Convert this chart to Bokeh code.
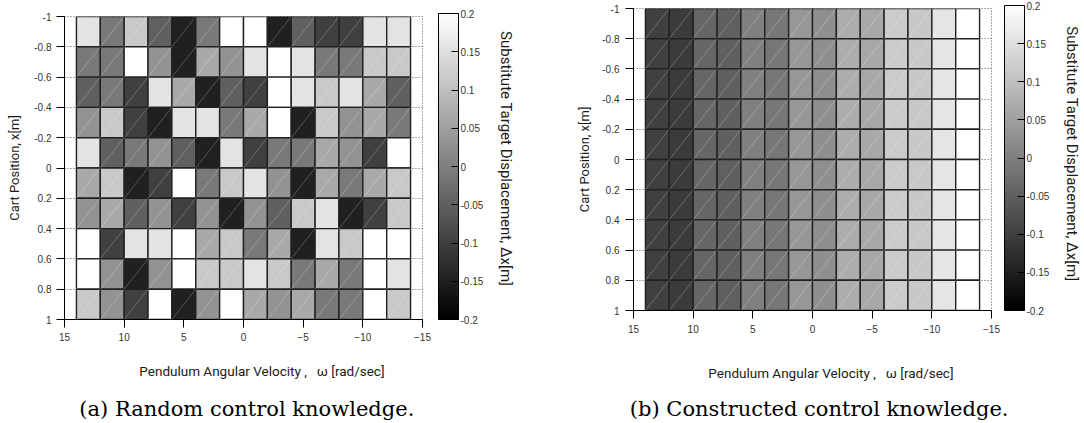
from bokeh.plotting import figure
from bokeh.models import (Range1d, LinearColorMapper, ColorBar, FixedTicker, LinearAxis,
                          ColumnDataSource, AllLabels)
from bokeh.layouts import row, column
from bokeh.transform import transform
from bokeh.embed import file_html
from bokeh.resources import INLINE

# ---------------- data ----------------
omega_centers = [13, 11, 9, 7, 5, 3, 1, -1, -3, -5, -7, -9, -11, -13]
position_centers = [-0.9, -0.7, -0.5, -0.3, -0.1, 0.1, 0.3, 0.5, 0.7, 0.9]

random_values = [
    [0.155, -0.01, 0.115, -0.05, -0.15, -0.01, 0.2, 0.2, -0.15, -0.05, -0.1, -0.1, 0.155, 0.155],
    [-0.01, -0.01, 0.2, 0.03, -0.15, 0.065, 0.03, 0.155, 0.2, 0.155, -0.01, -0.01, 0.115, 0.115],
    [-0.05, -0.01, -0.1, 0.155, 0.065, -0.15, -0.05, -0.1, 0.2, 0.155, 0.115, 0.155, 0.065, -0.05],
    [0.03, 0.115, -0.1, -0.15, 0.155, 0.155, -0.01, 0.065, 0.2, -0.15, 0.115, 0.03, 0.065, -0.01],
    [0.155, -0.05, -0.01, 0.03, -0.05, -0.15, 0.155, -0.1, -0.01, -0.01, 0.065, 0.03, -0.1, 0.2],
    [0.065, 0.115, -0.15, -0.1, 0.2, -0.01, 0.115, 0.155, 0.03, -0.15, 0.065, -0.01, 0.065, 0.115],
    [0.03, 0.065, -0.05, 0.03, -0.1, 0.03, -0.15, 0.03, -0.05, 0.115, 0.155, -0.15, -0.1, 0.115],
    [0.2, -0.1, 0.155, 0.155, 0.2, 0.065, 0.115, -0.01, 0.065, -0.15, 0.155, 0.115, 0.2, 0.2],
    [0.2, 0.03, -0.15, 0.03, 0.2, 0.115, 0.115, 0.155, 0.115, -0.01, 0.065, -0.01, 0.2, 0.155],
    [0.115, 0.03, -0.1, 0.2, -0.15, 0.03, 0.2, 0.065, 0.03, 0.065, -0.01, -0.01, 0.2, 0.115],
]

constructed_column_values = [-0.1, -0.107, -0.04, -0.05, 0.0, -0.013, 0.037, 0.024,
                             0.071, 0.064, 0.118, 0.114, 0.158, 0.2]
constructed_values = [list(constructed_column_values) for _ in position_centers]

x_ticks = [15, 10, 5, 0, -5, -10, -15]
y_ticks = [-1, -0.8, -0.6, -0.4, -0.2, 0, 0.2, 0.4, 0.6, 0.8, 1]
y_tick_labels = ["-1", "-0.8", "-0.6", "-0.4", "-0.2", "0", "0.2", "0.4", "0.6", "0.8", "1"]
cb_ticks = [-0.2, -0.15, -0.1, -0.05, 0, 0.05, 0.1, 0.15, 0.2]
cb_tick_labels = ["-0.2", "-0.15", "-0.1", "-0.05", "0", "0.05", "0.1", "0.15", "0.2"]

x_title = "Pendulum Angular Velocity\u00a0,\u00a0\u00a0\u00a0ω [rad/sec]"
y_title = "Cart Position, x[m]"
cb_title = "Substitute Target Displacement, Δx[m]"
captions = ["(a) Random control knowledge.", "(b) Constructed control knowledge."]

# ---------------- style ----------------
NB = "\u00a0"
CELL_W, CELL_H = 2.0, 0.2
GRAYS = ["#%02x%02x%02x" % (i, i, i) for i in range(256)]
TICK_FONT = "Liberation Sans"
LABEL_FONT = "Roboto"
CAPTION_FONT = "DejaVu Serif"
FRAME_W = 358
HEIGHT = 423


def text_axis(label, standoff, font, size, color):
    ax = LinearAxis(ticker=FixedTicker(ticks=[]), axis_label=label,
                    axis_label_standoff=standoff,
                    axis_line_color=None, major_tick_line_color=None,
                    minor_tick_line_color=None,
                    axis_label_text_font=font, axis_label_text_font_size=size,
                    axis_label_text_font_style="normal", axis_label_text_color=color)
    ax.major_tick_out = 0
    ax.major_tick_in = 0
    ax.major_label_standoff = 0
    return ax


def make_panel(values, caption, width, border_left, border_top, frame_h,
               tick_standoff, ylab_standoff, cb_x, xlab_standoff, xlab_pad,
               cap_standoff, cap_pad, cbt_standoff, cbt_pad):
    p = figure(width=width, height=HEIGHT,
               x_range=Range1d(15, -15), y_range=Range1d(1, -1),
               min_border_left=border_left,
               min_border_right=width - border_left - FRAME_W,
               min_border_top=border_top,
               min_border_bottom=HEIGHT - border_top - frame_h,
               output_backend="svg", toolbar_location=None, tools="")
    p.background_fill_color = "white"
    p.border_fill_color = "white"
    p.outline_line_color = "#555555"
    p.outline_line_dash = "1 2"
    p.outline_line_width = 1

    mapper = LinearColorMapper(palette=GRAYS, low=-0.2, high=0.2)

    w, x, v, dx0, dy0, dx1, dy1 = [], [], [], [], [], [], []
    for r, yc in enumerate(position_centers):
        for c, wc in enumerate(omega_centers):
            w.append(wc)
            x.append(yc)
            v.append(values[r][c])
            dx0.append(wc + CELL_W / 2)
            dy0.append(yc + CELL_H / 2)
            dx1.append(wc - CELL_W / 2)
            dy1.append(yc - CELL_H / 2)
    src = ColumnDataSource(dict(w=w, x=x, v=v, dx0=dx0, dy0=dy0, dx1=dx1, dy1=dy1))

    p.rect(x="w", y="x", width=CELL_W, height=CELL_H, source=src,
           fill_color=transform("v", mapper), line_color="#202020", line_width=1.4)
    p.segment(x0="dx0", y0="dy0", x1="dx1", y1="dy1", source=src,
              line_color="white", line_alpha=0.4, line_width=0.6)

    # grid
    p.xgrid.visible = False
    p.ygrid.ticker = FixedTicker(ticks=y_ticks)
    p.ygrid.grid_line_color = "#555555"
    p.ygrid.grid_line_dash = "1 2"
    p.ygrid.grid_line_width = 1

    # axes
    for ax in (p.xaxis[0], p.yaxis[0]):
        ax.axis_line_color = "black"
        ax.axis_line_width = 1
        ax.major_tick_line_color = "black"
        ax.major_tick_in = 0
        ax.major_tick_out = 8
        ax.minor_tick_line_color = None
        ax.major_label_text_font = TICK_FONT
        ax.major_label_text_font_size = "10px"
        ax.major_label_text_color = "#333333"
        ax.major_label_standoff = tick_standoff
    p.xaxis.ticker = FixedTicker(ticks=x_ticks)
    p.yaxis.ticker = FixedTicker(ticks=y_ticks)
    p.yaxis.major_label_overrides = dict(zip(y_ticks, y_tick_labels))
    p.yaxis.axis_label = y_title
    p.yaxis.axis_label_standoff = ylab_standoff
    p.yaxis.axis_label_text_font = LABEL_FONT
    p.yaxis.axis_label_text_font_size = "13px"
    p.yaxis.axis_label_text_font_style = "normal"
    p.yaxis.axis_label_text_color = "#1a1a1a"

    # extra text-only axes (x label, caption, colour-bar title)
    p.add_layout(text_axis(NB * xlab_pad + x_title, xlab_standoff, LABEL_FONT, "13.5px",
                           "#1a1a1a"), "below")
    p.add_layout(text_axis(NB * cap_pad + caption, cap_standoff, CAPTION_FONT, "21px",
                           "black"), "below")
    p.add_layout(text_axis(cb_title + NB * cbt_pad, cbt_standoff, LABEL_FONT, "15px",
                           "#1a1a1a"), "right")

    # colour bar
    cb = ColorBar(color_mapper=mapper, location=(cb_x, 0), width=20, height=frame_h,
                  padding=0, margin=0, orientation="vertical",
                  ticker=FixedTicker(ticks=cb_ticks),
                  major_label_overrides=dict(zip(cb_ticks, cb_tick_labels)),
                  major_label_policy=AllLabels(),
                  major_tick_in=7, major_tick_out=0, major_tick_line_color="black",
                  minor_tick_line_color=None,
                  bar_line_color="black", bar_line_width=1,
                  label_standoff=2, major_label_text_font=TICK_FONT,
                  major_label_text_font_size="10px", major_label_text_color="#333333",
                  background_fill_alpha=0, border_line_color=None)
    p.add_layout(cb)
    return p


p1 = make_panel(random_values, captions[0], width=564, border_left=64, border_top=16,
                frame_h=306, tick_standoff=5, ylab_standoff=9, cb_x=374,
                xlab_standoff=19, xlab_pad=11, cap_standoff=15, cap_pad=1,
                cbt_standoff=74, cbt_pad=5)
p2 = make_panel(constructed_values, captions[1], width=520, border_left=69, border_top=8,
                frame_h=305, tick_standoff=6, ylab_standoff=7, cb_x=371,
                xlab_standoff=29, xlab_pad=11, cap_standoff=13, cap_pad=2,
                cbt_standoff=71, cbt_pad=3)

layout = row(column(p1), column(p2))
open("out.html", "w").write(file_html(layout, INLINE))
